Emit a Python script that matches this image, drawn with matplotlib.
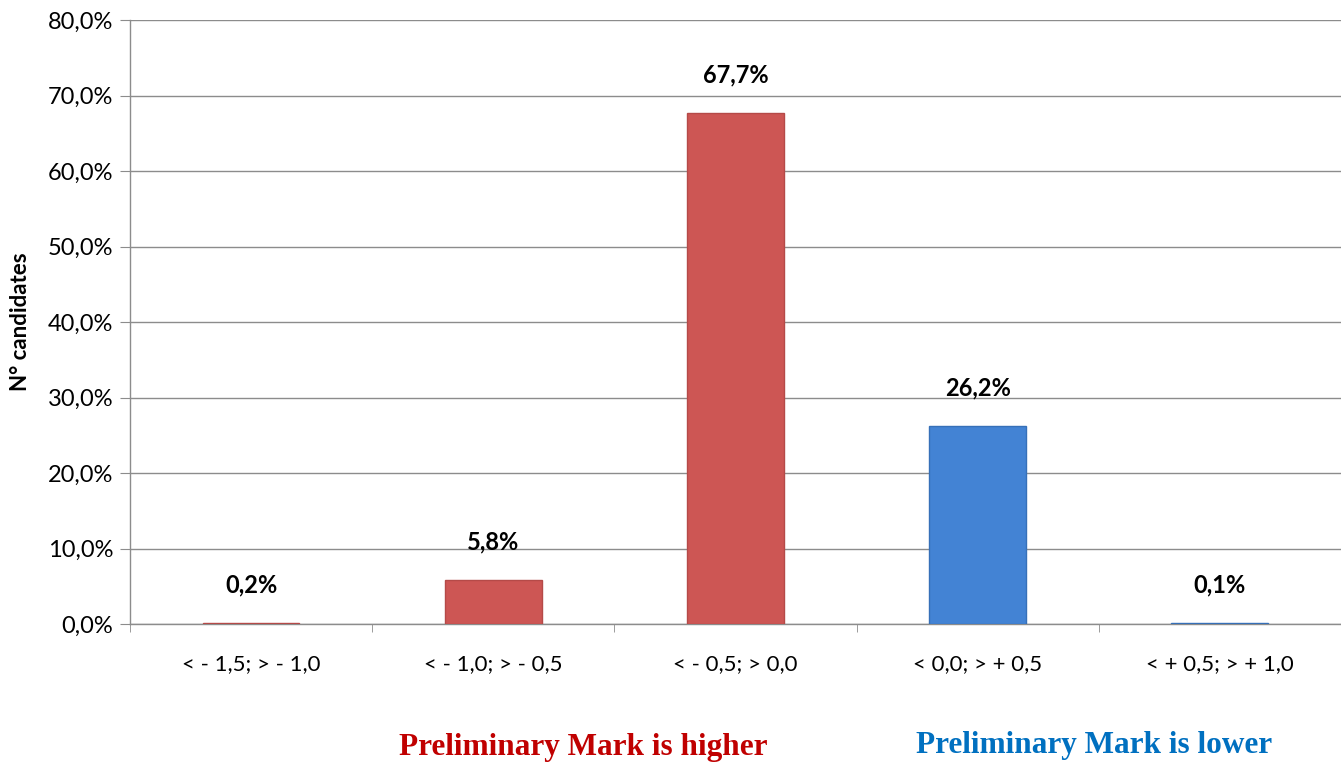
import numpy as np
import matplotlib
matplotlib.use("Agg")
import matplotlib.pyplot as plt
from matplotlib.ticker import FixedLocator, FuncFormatter

categories = ["< - 1,5; > - 1,0", "< - 1,0; > - 0,5", "< - 0,5; > 0,0",
              "< 0,0; > + 0,5", "< + 0,5; > + 1,0"]
values = [0.2, 5.8, 67.7, 26.2, 0.1]
groups = ["higher", "higher", "higher", "lower", "lower"]

bar_colors = {"higher": "#CD5654", "lower": "#4383D4"}
edge_colors = {"higher": "#B54A48", "lower": "#3670B8"}

plt.rcParams["font.family"] = ["Lato", "DejaVu Sans"]

fig = plt.figure(figsize=(13.41, 7.64), dpi=100)
ax = fig.add_axes([0.0969, 0.1832, 0.9031, 0.7906])

x = np.arange(len(categories))
ax.bar(x, values, width=0.4,
       color=[bar_colors[g] for g in groups],
       edgecolor=[edge_colors[g] for g in groups], linewidth=1.0, zorder=3)

for xi, v in zip(x, values):
    ax.annotate(f"{v:.1f}%".replace(".", ","), (xi, v), xytext=(0, 19),
                textcoords="offset points", ha="center", va="bottom",
                fontsize=17, fontweight="bold", color="black")

ax.set_xlim(-0.5, len(categories) - 0.5)
ax.set_ylim(0, 80)
ax.set_yticks(np.arange(0, 81, 10))
ax.yaxis.set_major_formatter(FuncFormatter(lambda v, p: f"{v:.1f}%".replace(".", ",")))
ax.yaxis.grid(True, color="#8C8C8C", linewidth=1.0, zorder=0)

ax.set_xticks(x)
ax.set_xticklabels(categories)
ax.xaxis.set_minor_locator(FixedLocator(np.arange(-0.5, len(categories), 1.0)))
ax.tick_params(axis="x", which="major", length=0, pad=22, labelsize=16)
ax.tick_params(axis="x", which="minor", length=6, color="#8C8C8C", direction="out")
ax.tick_params(axis="y", length=7, color="#8C8C8C", labelsize=17, pad=5)

for s in ["top", "right"]:
    ax.spines[s].set_visible(False)
for s in ["left", "bottom"]:
    ax.spines[s].set_color("#8C8C8C")
    ax.spines[s].set_linewidth(1.0)

ax.set_ylabel("N° candidates", fontsize=16, fontweight="bold", va="center")
ax.yaxis.set_label_coords(-0.0905, 0.5)

fig.text(583 / 1341, 1 - 747 / 764, "Preliminary Mark is higher", ha="center", va="center",
         fontsize=22.5, fontweight="bold", color="#C00000", family="Liberation Serif")
fig.text(1094 / 1341, 1 - 745 / 764, "Preliminary Mark is lower", ha="center", va="center",
         fontsize=22.5, fontweight="bold", color="#0070C0", family="Liberation Serif")

fig.savefig("out.png", dpi=100)
